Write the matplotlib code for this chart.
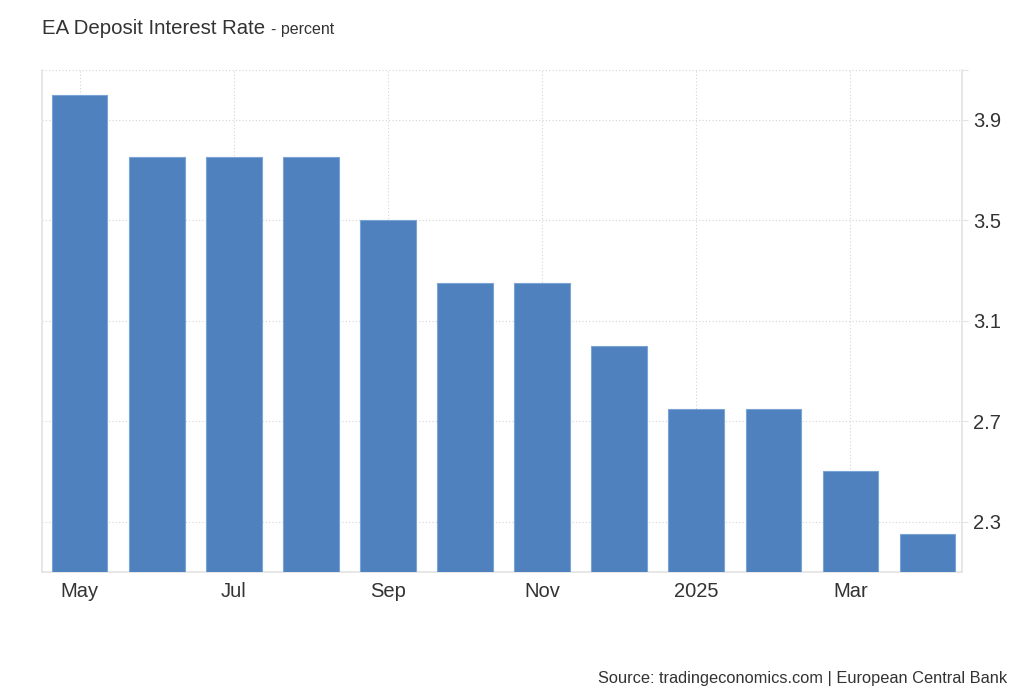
import numpy as np
import matplotlib.pyplot as plt

plt.rcParams['font.family'] = ['Liberation Sans', 'DejaVu Sans']

months = ["May", "Jun", "Jul", "Aug", "Sep", "Oct", "Nov", "Dec", "2025", "Feb", "Mar", "Apr"]
rates = [4.00, 3.75, 3.75, 3.75, 3.50, 3.25, 3.25, 3.00, 2.75, 2.75, 2.50, 2.25]
shown_labels = ["May", "Jul", "Sep", "Nov", "2025", "Mar"]
y_ticks = [2.3, 2.7, 3.1, 3.5, 3.9]

bar_color = "#4e81bd"
text_color = "#333333"
frame_color = "#e3e3e3"

fig = plt.figure(figsize=(10.24, 7), dpi=100)
ax = fig.add_axes([0.041, 0.183, 0.8985, 0.7177])

x = np.arange(len(months))
ax.bar(x, rates, width=0.72, color=bar_color, edgecolor="#7aa3d6", linewidth=0.8, zorder=3)

ax.set_xlim(-0.49, 11.45)
ax.set_ylim(2.1, 4.1)

tick_pos = [months.index(m) for m in shown_labels]
ax.set_xticks(tick_pos)
ax.set_xticklabels(shown_labels, fontsize=14.5, color=text_color)
ax.tick_params(axis="x", length=0, pad=7)

ax.yaxis.tick_right()
ax.set_yticks(y_ticks + [4.1])
ax.set_yticklabels([f"{v:.1f}" for v in y_ticks] + [""], fontsize=14.5, color=text_color)
ax.tick_params(axis="y", length=4, color=frame_color, pad=4)

ax.grid(True, color="#d4d4d4", linestyle=(0, (1, 2)), linewidth=0.8, zorder=0)

for side in ["left", "right", "bottom"]:
    ax.spines[side].set_color(frame_color)
    ax.spines[side].set_linewidth(1.2)
ax.spines["top"].set_visible(False)

title = fig.text(0.041, 0.96, "EA Deposit Interest Rate", fontsize=14.7, color=text_color, va="center")
fig.canvas.draw()
bb = title.get_window_extent()
fig.text(bb.x1 / fig.bbox.width + 0.006, 0.958, "- percent", fontsize=11.5, color=text_color, va="center")
fig.text(0.984, 0.03, "Source: tradingeconomics.com | European Central Bank",
         fontsize=11.8, color=text_color, ha="right", va="center")

fig.savefig("out.png", dpi=100)
